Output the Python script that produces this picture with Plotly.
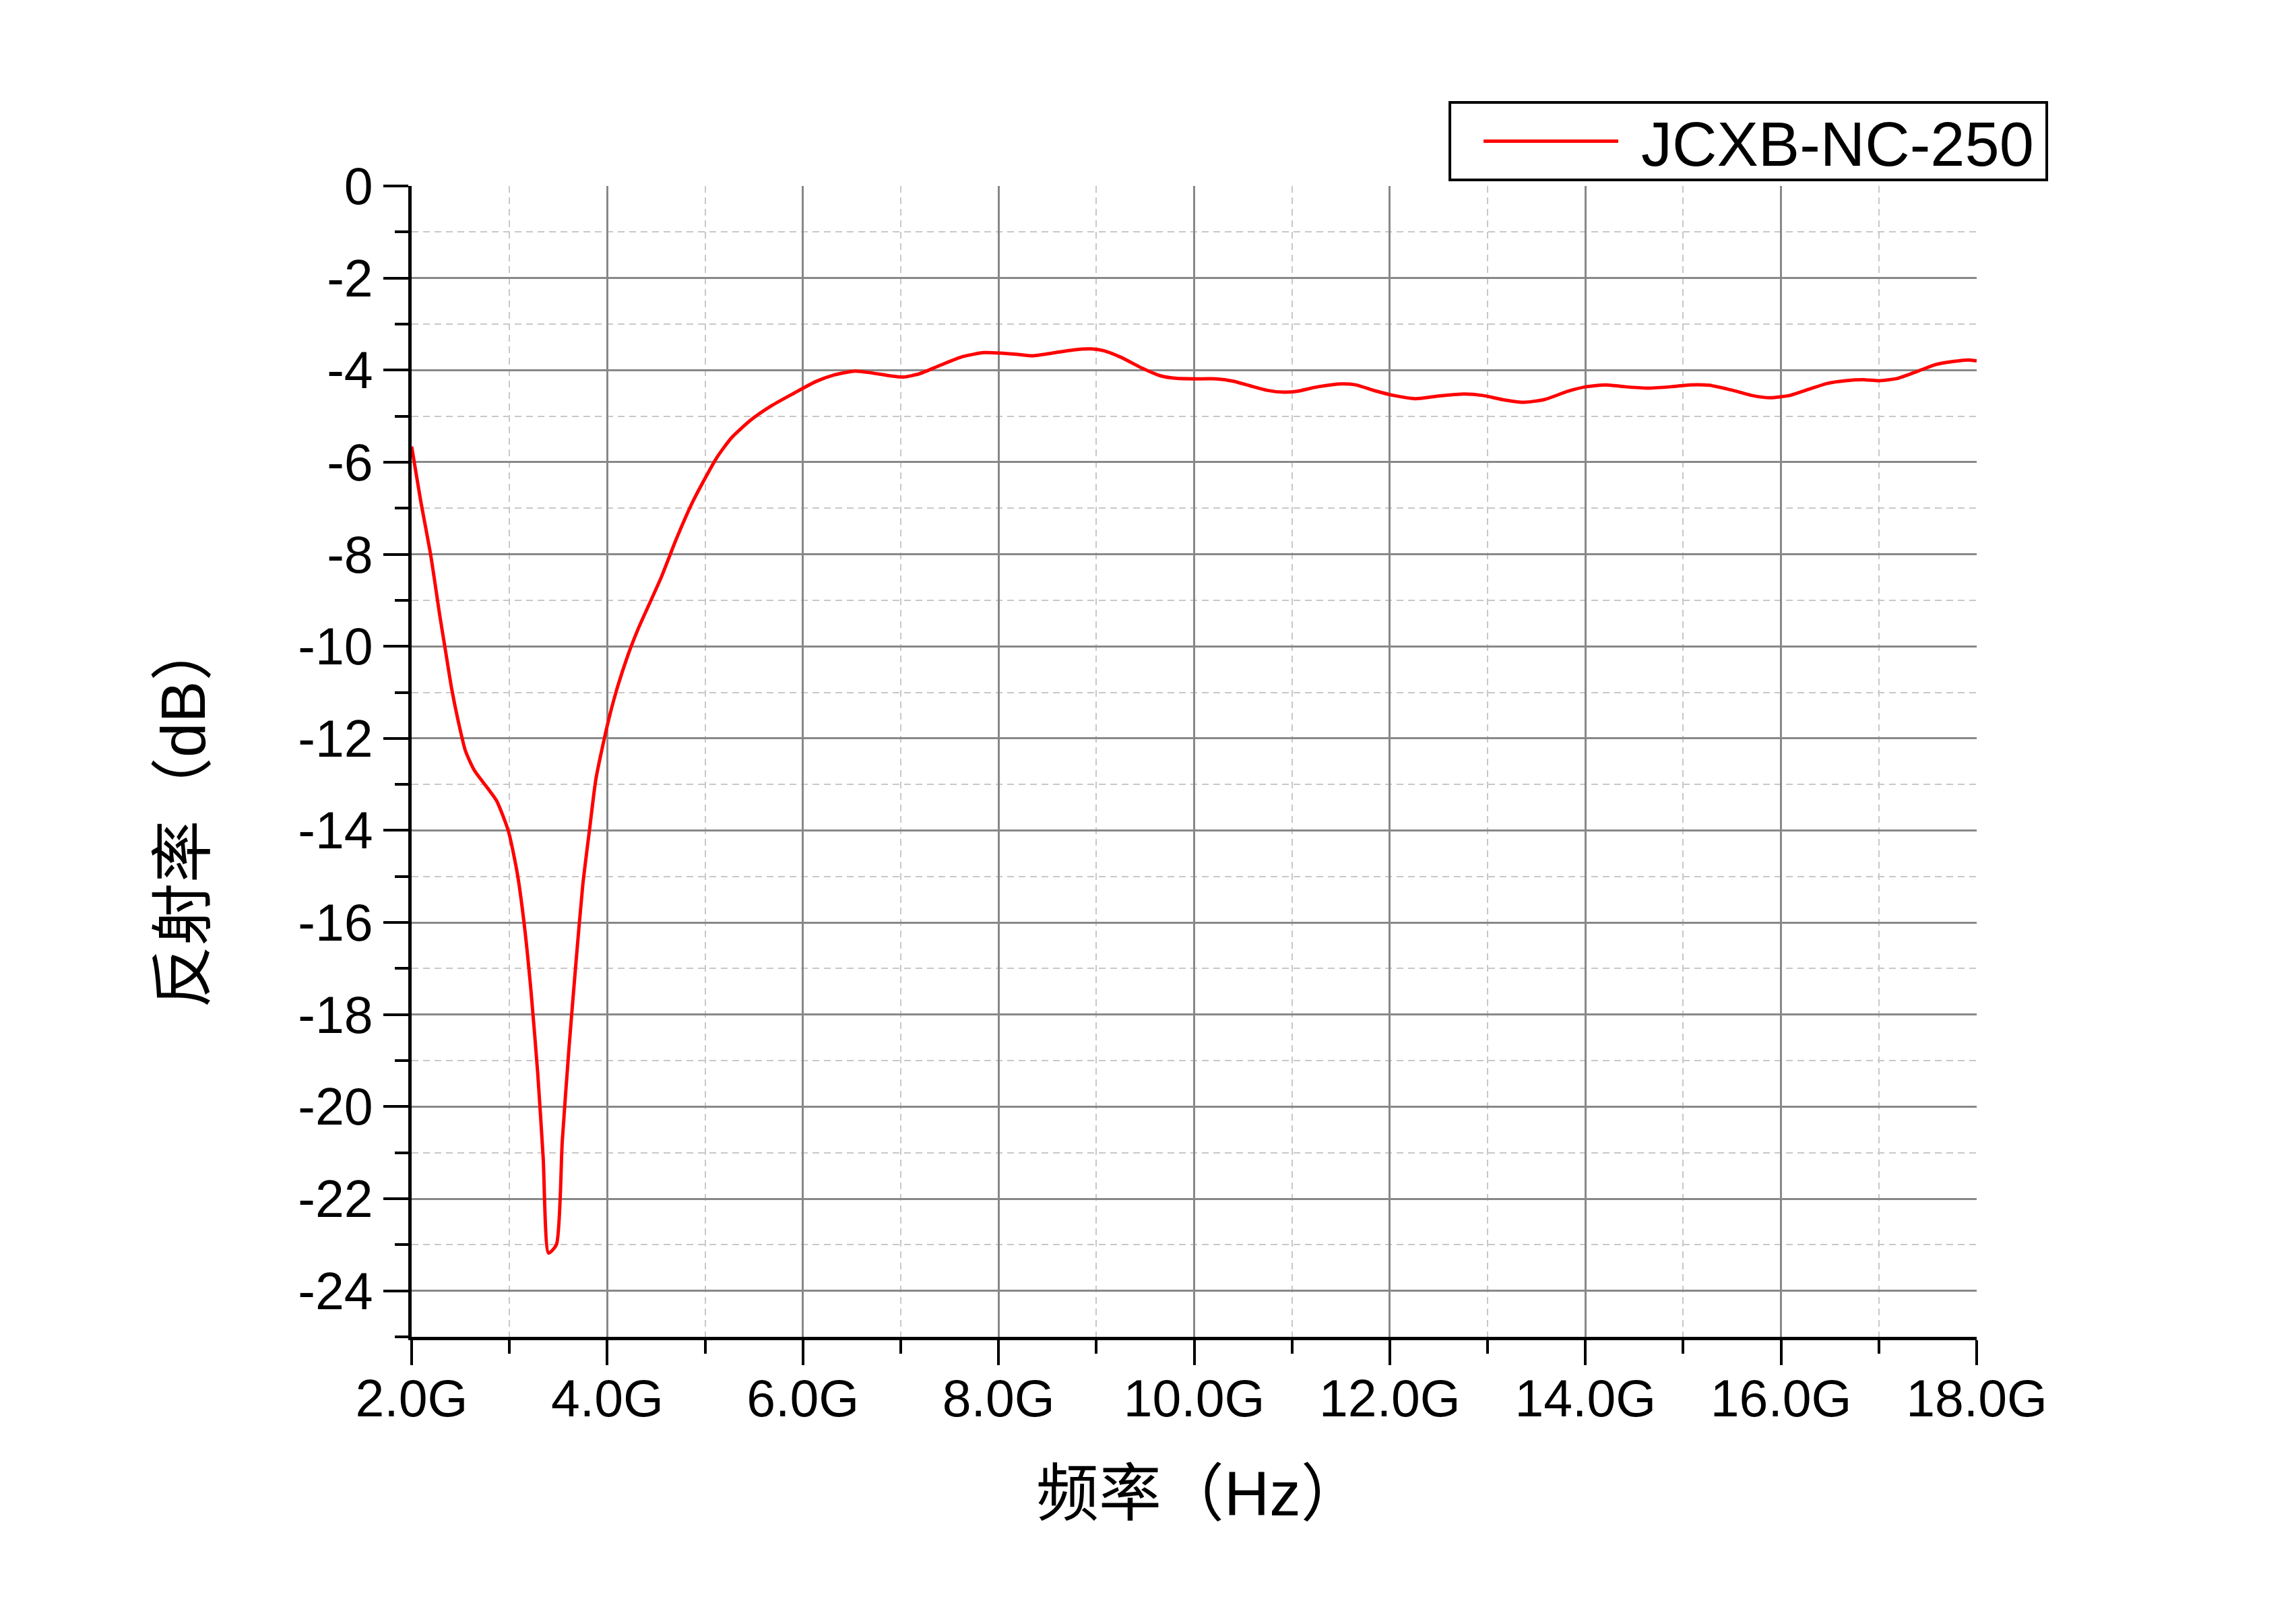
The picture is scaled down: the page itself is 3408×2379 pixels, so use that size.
import plotly.graph_objects as go

freq_ghz = [2.0, 2.09, 2.195, 2.29, 2.345, 2.41, 2.48, 2.55, 2.64, 2.78, 2.87, 2.99, 3.08, 3.15,
            3.22, 3.29, 3.345, 3.40, 3.48, 3.54, 3.61, 3.68, 3.75, 3.82, 3.885, 4.0, 4.09, 4.21,
            4.32, 4.55, 4.70, 4.86, 4.99, 5.12, 5.27, 5.47, 5.69, 5.91, 6.13, 6.31, 6.53, 6.70,
            6.88, 7.03, 7.19, 7.41, 7.63, 7.85, 8.02, 8.20, 8.35, 8.55, 8.77, 8.95, 9.08, 9.25,
            9.47, 9.65, 9.82, 10.01, 10.22, 10.40, 10.57, 10.75, 10.92, 11.05, 11.27, 11.51,
            11.65, 11.85, 12.04, 12.26, 12.47, 12.76, 12.95, 13.15, 13.36, 13.58, 13.82, 14.01,
            14.21, 14.40, 14.64, 14.88, 15.07, 15.27, 15.51, 15.70, 15.89, 16.09, 16.28, 16.47,
            16.66, 16.86, 17.00, 17.19, 17.39, 17.58, 17.77, 17.91, 18.0]
reflectivity_db = [-5.66, -6.81, -8.02, -9.36, -10.08, -10.93, -11.66, -12.27, -12.69, -13.09,
                   -13.36, -14.02, -14.93, -16.02, -17.48, -19.3, -21.12, -23.18, -23.0, -20.75,
                   -18.69, -16.87, -15.18, -13.96, -12.87, -11.72, -10.99, -10.2, -9.6, -8.51,
                   -7.7, -6.92, -6.39, -5.90, -5.47, -5.08, -4.76, -4.50, -4.25, -4.11, -4.02,
                   -4.06, -4.12, -4.15, -4.08, -3.89, -3.71, -3.62, -3.63, -3.66, -3.69, -3.63,
                   -3.56, -3.54, -3.58, -3.72, -3.96, -4.12, -4.18, -4.19, -4.19, -4.24, -4.34,
                   -4.44, -4.48, -4.46, -4.36, -4.30, -4.32, -4.45, -4.55, -4.62, -4.57, -4.52,
                   -4.55, -4.64, -4.70, -4.64, -4.46, -4.36, -4.32, -4.36, -4.39, -4.36, -4.32,
                   -4.33, -4.44, -4.55, -4.60, -4.55, -4.42, -4.29, -4.23, -4.21, -4.23, -4.18,
                   -4.03, -3.88, -3.81, -3.78, -3.80]

x_tick_vals = [2, 4, 6, 8, 10, 12, 14, 16, 18]
x_tick_text = ["2.0G", "4.0G", "6.0G", "8.0G", "10.0G", "12.0G", "14.0G", "16.0G", "18.0G"]
y_tick_vals = [0, -2, -4, -6, -8, -10, -12, -14, -16, -18, -20, -22, -24]
y_tick_text = [str(v) for v in y_tick_vals]
series_name = "JCXB-NC-250"
x_title = "频率（Hz）"
y_title = "反射率（dB）"

LATIN = "Liberation Sans, Arial, sans-serif"
CJK = "Liberation Sans, Noto Sans CJK SC, sans-serif"
RED = "#ff0000"

fig = go.Figure()
fig.add_trace(go.Scatter(
    x=freq_ghz, y=reflectivity_db, mode="lines", name=series_name, showlegend=False,
    line=dict(color=RED, width=5, shape="spline", smoothing=0.6),
))

# legend box (drawn in paper coordinates)
fig.add_shape(type="rect", xref="paper", yref="paper", x0=0.6634, x1=1.0448, y0=1.0053, y1=1.0726,
              line=dict(color="black", width=4), fillcolor="white", layer="above")
fig.add_shape(type="line", xref="paper", yref="paper", x0=0.6849, x1=0.7710, y0=1.0389, y1=1.0389,
              line=dict(color=RED, width=5), layer="above")
fig.add_annotation(xref="paper", yref="paper", x=0.7848, y=1.0364, xanchor="left", yanchor="middle",
                   text=series_name, showarrow=False,
                   font=dict(family=LATIN, size=92, color="black"))

# axis titles
fig.add_annotation(xref="paper", yref="paper", x=0.5036, y=-0.1364, xanchor="center", yanchor="middle",
                   text=x_title, showarrow=False, font=dict(family=CJK, size=93, color="black"))
fig.add_annotation(xref="paper", yref="paper", x=-0.1462, y=0.455, xanchor="center", yanchor="middle",
                   text=y_title, textangle=-90, showarrow=False,
                   font=dict(family=CJK, size=93, color="black"))

# page body has an 8px default margin, so the figure is slightly smaller and shifted
fig.update_layout(
    width=3392, height=2363,
    paper_bgcolor="white", plot_bgcolor="white",
    margin=dict(l=603, r=466, t=268, b=387, autoexpand=False),
    showlegend=False,
)

fig.update_xaxes(
    range=[2, 18], tickvals=x_tick_vals, ticktext=x_tick_text,
    showline=True, linecolor="black", linewidth=5, mirror=False,
    ticks="outside", ticklen=37, tickwidth=4, tickcolor="black", ticklabelstandoff=-16,
    tickfont=dict(family=LATIN, size=77, color="black"),
    showgrid=True, gridcolor="#888888", gridwidth=3, zeroline=False,
    minor=dict(dtick=1, tick0=2, ticks="outside", ticklen=20, tickwidth=4, tickcolor="black",
               showgrid=True, gridcolor="#c8c8c8", gridwidth=2, griddash="10px,7px"),
)
fig.update_yaxes(
    range=[-25, 0], tickvals=y_tick_vals, ticktext=y_tick_text,
    showline=True, linecolor="black", linewidth=5, mirror=False,
    ticks="outside", ticklen=37, tickwidth=4, tickcolor="black",
    tickfont=dict(family=LATIN, size=77, color="black"),
    showgrid=True, gridcolor="#888888", gridwidth=3, zeroline=False,
    minor=dict(dtick=1, tick0=0, ticks="outside", ticklen=20, tickwidth=4, tickcolor="black",
               showgrid=True, gridcolor="#c8c8c8", gridwidth=2, griddash="10px,7px"),
)

fig.write_html("out.html")
